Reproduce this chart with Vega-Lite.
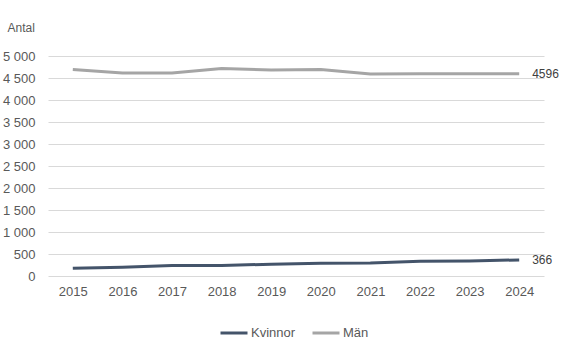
{
  "$schema": "https://vega.github.io/schema/vega-lite/v6.json",
  "autosize": {"type": "none"},
  "width": 496,
  "height": 220,
  "padding": {"left": 48, "top": 56, "right": 37, "bottom": 82},
  "data": {"values": [
    {"year": "2015", "serie": "Kvinnor", "value": 175},
    {"year": "2016", "serie": "Kvinnor", "value": 198},
    {"year": "2017", "serie": "Kvinnor", "value": 236},
    {"year": "2018", "serie": "Kvinnor", "value": 240},
    {"year": "2019", "serie": "Kvinnor", "value": 268},
    {"year": "2020", "serie": "Kvinnor", "value": 288},
    {"year": "2021", "serie": "Kvinnor", "value": 295},
    {"year": "2022", "serie": "Kvinnor", "value": 338},
    {"year": "2023", "serie": "Kvinnor", "value": 340},
    {"year": "2024", "serie": "Kvinnor", "value": 366},
    {"year": "2015", "serie": "Män", "value": 4695},
    {"year": "2016", "serie": "Män", "value": 4614},
    {"year": "2017", "serie": "Män", "value": 4612},
    {"year": "2018", "serie": "Män", "value": 4716},
    {"year": "2019", "serie": "Män", "value": 4680},
    {"year": "2020", "serie": "Män", "value": 4693},
    {"year": "2021", "serie": "Män", "value": 4590},
    {"year": "2022", "serie": "Män", "value": 4594},
    {"year": "2023", "serie": "Män", "value": 4596},
    {"year": "2024", "serie": "Män", "value": 4596}
  ]},
  "encoding": {
    "x": {"field": "year", "type": "ordinal", "scale": {"type": "point", "padding": 0.5},
      "axis": {"title": null, "labelAngle": 0, "domain": false, "ticks": false, "tickSize": 0, "grid": false, "labelPadding": 9, "labelFontSize": 13, "labelColor": "#595959", "labelFont": "Liberation Sans"}},
    "y": {"field": "value", "type": "quantitative", "scale": {"domain": [0, 5000], "nice": false},
      "axis": {"values": [0, 500, 1000, 1500, 2000, 2500, 3000, 3500, 4000, 4500, 5000],
        "labelExpr": "replace(format(datum.value, ','), ',', ' ')",
        "title": "Antal", "titleAngle": 0, "titleAlign": "left", "titleBaseline": "middle", "titleX": -41, "titleY": -29,
        "titleFontWeight": "normal", "titleFontSize": 12, "titleColor": "#595959", "titleFont": "Liberation Sans",
        "domain": false, "ticks": false, "tickSize": 0, "labelPadding": 13, "labelFontSize": 13, "labelColor": "#595959", "labelFont": "Liberation Sans",
        "grid": true, "gridColor": "#d9d9d9", "gridWidth": 1}}
  },
  "layer": [
    {
      "mark": {"type": "line", "strokeWidth": 3},
      "encoding": {
        "color": {"field": "serie", "type": "nominal",
          "scale": {"domain": ["Kvinnor", "Män"], "range": ["#44546a", "#a5a5a5"]},
          "legend": {"orient": "none", "legendX": 171, "legendY": 262, "direction": "horizontal", "title": null,
            "symbolType": "stroke", "symbolSize": 729, "symbolStrokeWidth": 3, "labelFontSize": 13,
            "labelColor": "#595959", "labelFont": "Liberation Sans", "labelOffset": 2, "columnPadding": 10}}
      }
    },
    {
      "transform": [{"filter": "datum.year == '2024'"}],
      "mark": {"type": "text", "align": "left", "baseline": "middle", "dx": 13, "fontSize": 12, "font": "Liberation Sans", "color": "#404040"},
      "encoding": {"text": {"field": "value", "type": "quantitative", "format": "d"}}
    }
  ],
  "config": {"view": {"stroke": null}}
}
